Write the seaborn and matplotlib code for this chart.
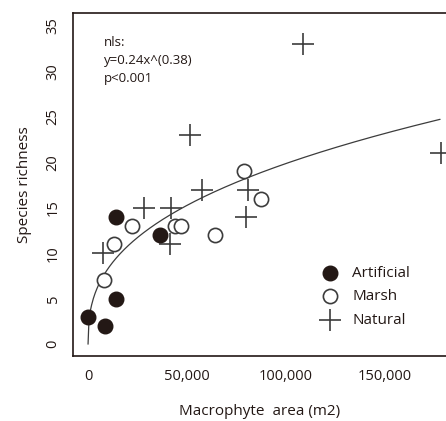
import numpy as np
import pandas as pd
import matplotlib
matplotlib.use("Agg")
import matplotlib.pyplot as plt
import seaborn as sns

# ---- data ----
art_x = [0, 8600, 14100, 14100, 36400]
art_y = [3, 2, 5, 14, 12]

marsh_x = [8100, 13100, 22200, 43900, 47000, 64100, 78800, 87400]
marsh_y = [7, 11, 13, 13, 13, 12, 19, 16]

nat_x = [7600, 28300, 41400, 41900, 51500, 57500, 79800, 80800, 108600, 178300]
nat_y = [10, 15, 11, 15, 23, 17, 14, 17, 33, 21]

fit_a, fit_b = 0.25, 0.38
fit_xmax = 177800

xticks = [0, 50000, 100000, 150000]
xticklabels = ["0", "50,000", "100,000", "150,000"]
yticks = [0, 5, 10, 15, 20, 25, 30, 35]

df = pd.concat([
    pd.DataFrame({"area": art_x, "rich": art_y, "type": "Artificial"}),
    pd.DataFrame({"area": marsh_x, "rich": marsh_y, "type": "Marsh"}),
    pd.DataFrame({"area": nat_x, "rich": nat_y, "type": "Natural"}),
])

sns.set_style("white")
plt.rcParams['font.family'] = ['Open Sans', 'DejaVu Sans']

fig = plt.figure(figsize=(4.46, 4.21), dpi=100)
ax = fig.add_axes([73/446, 1-356/421, 1-73/446, (356-13)/421])

dark = "#231815"
grey = "#3c3c3c"

fx = np.linspace(0, fit_xmax, 400)
fy = fit_a * fx ** fit_b
sns.lineplot(x=fx, y=fy, ax=ax, color=grey, linewidth=0.9)

sns.scatterplot(data=df[df.type == "Natural"], x="area", y="rich", ax=ax,
                marker="+", s=250, color=grey, linewidth=1.2, label="Natural", zorder=3)
sns.scatterplot(data=df[df.type == "Marsh"], x="area", y="rich", ax=ax,
                marker="o", s=105, facecolor="white", edgecolor=grey, linewidth=1.2,
                label="Marsh", zorder=4)
sns.scatterplot(data=df[df.type == "Artificial"], x="area", y="rich", ax=ax,
                marker="o", s=110, color=dark, edgecolor=dark, linewidth=1.0,
                label="Artificial", zorder=5)

ax.set_xlim(-7600, 180800)
ax.set_ylim(-1.3, 36.4)
ax.set_xticks(xticks)
ax.set_xticklabels(xticklabels)
ax.set_yticks(yticks)
ax.set_yticklabels([str(v) for v in yticks], rotation=90, va="center")
ax.tick_params(direction="in", length=6, width=1, color="#333333", labelsize=10.5,
               labelcolor="#231815")
ax.tick_params(axis="y", pad=9)
ax.tick_params(axis="x", pad=9)

for side in ["left", "bottom", "top"]:
    ax.spines[side].set_visible(True)
    ax.spines[side].set_color("#231815")
    ax.spines[side].set_linewidth(1.2)
ax.spines["right"].set_visible(False)

ax.set_xlabel("Macrophyte  area (m2)", fontsize=11, color="#231815", labelpad=15)
ax.set_ylabel("Species richness", fontsize=11, color="#231815", labelpad=10)

ax.text(104/446, 1-36/421, "nls:\ny=0.24x^(0.38)\np<0.001", transform=fig.transFigure,
        fontsize=9.5, color="#231815", va="top", ha="left", linespacing=1.5)

h, l = ax.get_legend_handles_labels()
order = {lab: hh for hh, lab in zip(h, l)}
labs = ["Artificial", "Marsh", "Natural"]
leg = ax.legend([order[k] for k in labs], labs, frameon=False, fontsize=11,
                loc="upper left", bbox_to_anchor=(301/446, 1-252/421),
                bbox_transform=fig.transFigure, handletextpad=0.45, labelspacing=0.55,
                labelcolor="#231815")

fig.savefig("out.png", dpi=100)
